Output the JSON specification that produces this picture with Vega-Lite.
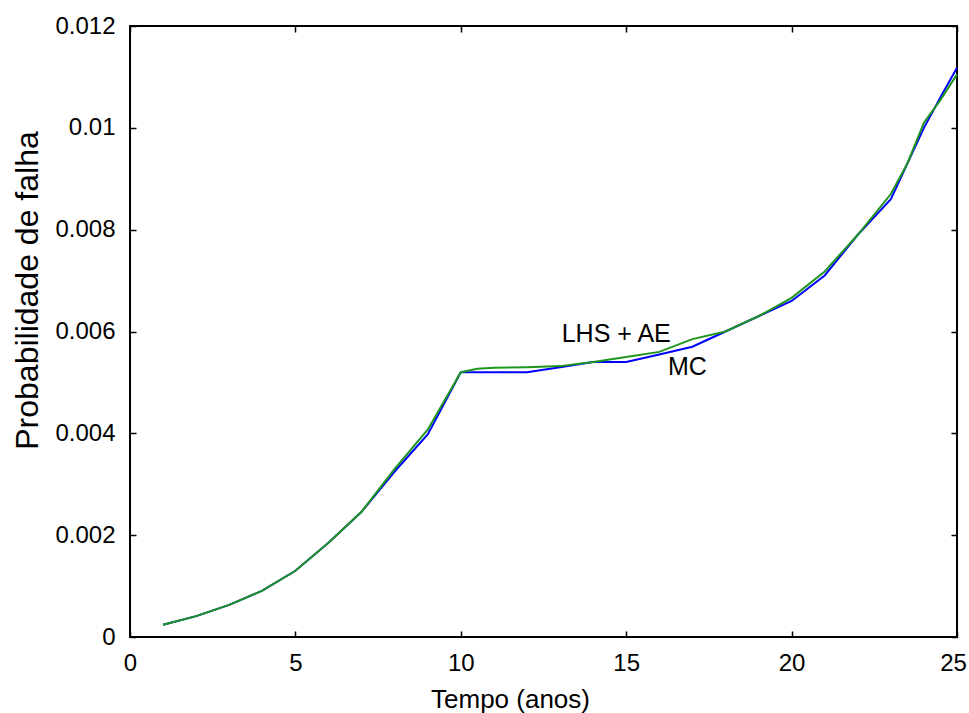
{
  "$schema": "https://vega.github.io/schema/vega-lite/v6.json",
  "width": 827,
  "height": 611,
  "autosize": {"type": "none"},
  "padding": {"left": 130, "top": 26, "right": 12, "bottom": 76},
  "background": "white",
  "config": {
    "view": {"stroke": "black", "strokeWidth": 2},
    "font": "Liberation Sans",
    "axis": {
      "domain": false,
      "grid": false,
      "tickColor": "black",
      "tickSize": -6,
      "tickWidth": 1.5,
      "labelFont": "Liberation Sans",
      "labelFontSize": 24,
      "labelColor": "black",
      "labelFlush": false,
      "labelOverlap": false,
      "labelBound": false,
      "titleFont": "Liberation Sans",
      "titleColor": "black",
      "titleFontWeight": "normal"
    }
  },
  "datasets": {
    "curves": [
      {"serie": "MC", "t": 1, "p": 0.00024},
      {"serie": "MC", "t": 2, "p": 0.00041},
      {"serie": "MC", "t": 3, "p": 0.00063},
      {"serie": "MC", "t": 4, "p": 0.00091},
      {"serie": "MC", "t": 5, "p": 0.0013},
      {"serie": "MC", "t": 6, "p": 0.00185},
      {"serie": "MC", "t": 7, "p": 0.00246},
      {"serie": "MC", "t": 8, "p": 0.00325},
      {"serie": "MC", "t": 9, "p": 0.00398},
      {"serie": "MC", "t": 10, "p": 0.0052},
      {"serie": "MC", "t": 11, "p": 0.0052},
      {"serie": "MC", "t": 12, "p": 0.0052},
      {"serie": "MC", "t": 12.5, "p": 0.00525},
      {"serie": "MC", "t": 13, "p": 0.0053},
      {"serie": "MC", "t": 14, "p": 0.0054},
      {"serie": "MC", "t": 15, "p": 0.0054},
      {"serie": "MC", "t": 16, "p": 0.00555},
      {"serie": "MC", "t": 17, "p": 0.0057},
      {"serie": "MC", "t": 18, "p": 0.006},
      {"serie": "MC", "t": 19, "p": 0.0063},
      {"serie": "MC", "t": 20, "p": 0.0066},
      {"serie": "MC", "t": 21, "p": 0.0071},
      {"serie": "MC", "t": 22, "p": 0.0079},
      {"serie": "MC", "t": 23, "p": 0.0086},
      {"serie": "MC", "t": 23.5, "p": 0.0093},
      {"serie": "MC", "t": 24, "p": 0.0100},
      {"serie": "MC", "t": 24.5, "p": 0.0106},
      {"serie": "MC", "t": 25, "p": 0.01118},
      {"serie": "LHS + AE", "t": 1, "p": 0.00024},
      {"serie": "LHS + AE", "t": 2, "p": 0.00041},
      {"serie": "LHS + AE", "t": 3, "p": 0.00063},
      {"serie": "LHS + AE", "t": 4, "p": 0.00091},
      {"serie": "LHS + AE", "t": 5, "p": 0.0013},
      {"serie": "LHS + AE", "t": 6, "p": 0.00185},
      {"serie": "LHS + AE", "t": 7, "p": 0.00246},
      {"serie": "LHS + AE", "t": 8, "p": 0.0033},
      {"serie": "LHS + AE", "t": 9, "p": 0.00407},
      {"serie": "LHS + AE", "t": 10, "p": 0.0052},
      {"serie": "LHS + AE", "t": 10.5, "p": 0.00527},
      {"serie": "LHS + AE", "t": 11, "p": 0.00529},
      {"serie": "LHS + AE", "t": 12, "p": 0.0053},
      {"serie": "LHS + AE", "t": 13, "p": 0.00532},
      {"serie": "LHS + AE", "t": 14, "p": 0.0054},
      {"serie": "LHS + AE", "t": 15, "p": 0.0055},
      {"serie": "LHS + AE", "t": 16, "p": 0.0056},
      {"serie": "LHS + AE", "t": 17, "p": 0.00585},
      {"serie": "LHS + AE", "t": 18, "p": 0.006},
      {"serie": "LHS + AE", "t": 19, "p": 0.0063},
      {"serie": "LHS + AE", "t": 20, "p": 0.00666},
      {"serie": "LHS + AE", "t": 21, "p": 0.00718},
      {"serie": "LHS + AE", "t": 22, "p": 0.0079},
      {"serie": "LHS + AE", "t": 23, "p": 0.0087},
      {"serie": "LHS + AE", "t": 23.5, "p": 0.0093},
      {"serie": "LHS + AE", "t": 24, "p": 0.0101},
      {"serie": "LHS + AE", "t": 24.5, "p": 0.01055},
      {"serie": "LHS + AE", "t": 25, "p": 0.01105}
    ],
    "labels": [
      {"label": "LHS + AE", "t": 13.05, "p": 0.0058},
      {"label": "MC", "t": 16.26, "p": 0.00515}
    ]
  },
  "layer": [
    {
      "data": {"name": "curves"},
      "mark": {"type": "line", "strokeWidth": 2, "interpolate": "linear"},
      "encoding": {
        "x": {
          "field": "t", "type": "quantitative",
          "scale": {"domain": [0, 25], "nice": false, "zero": false},
          "axis": {
            "orient": "bottom",
            "values": [0, 5, 10, 15, 20, 25],
            "labelPadding": 20,
            "labelOffset": {"condition": {"test": "datum.value == 25", "value": -4}, "value": 0},
            "title": "Tempo (anos)",
            "titleFontSize": 26,
            "titleX": 380,
            "titleY": 70,
            "titleAnchor": null,
            "titleAlign": "center",
            "titleBaseline": "alphabetic"
          }
        },
        "y": {
          "field": "p", "type": "quantitative",
          "scale": {"domain": [0, 0.012], "nice": false},
          "axis": {
            "orient": "left",
            "values": [0, 0.002, 0.004, 0.006, 0.008, 0.01, 0.012],
            "format": "~g",
            "labelPadding": 21,
            "title": "Probabilidade de falha",
            "titleFontSize": 32,
            "titleAngle": -90,
            "titleX": -93,
            "titleY": 264,
            "titleAnchor": null,
            "titleAlign": "center",
            "titleBaseline": "alphabetic"
          }
        },
        "color": {
          "field": "serie", "type": "nominal",
          "scale": {"domain": ["MC", "LHS + AE"], "range": ["#0000ff", "#1e961e"]},
          "legend": null
        },
        "order": {"field": "serie", "sort": "descending"}
      }
    },
    {
      "data": {"name": "labels"},
      "mark": {"type": "text", "align": "left", "baseline": "alphabetic", "fontSize": 25, "font": "Liberation Sans", "color": "black"},
      "encoding": {
        "x": {
          "field": "t", "type": "quantitative",
          "axis": {"orient": "top", "values": [0, 5, 10, 15, 20, 25], "labels": false, "title": null}
        },
        "y": {
          "field": "p", "type": "quantitative",
          "axis": {"orient": "right", "values": [0, 0.002, 0.004, 0.006, 0.008, 0.01, 0.012], "labels": false, "title": null}
        },
        "text": {"field": "label", "type": "nominal"}
      }
    }
  ],
  "resolve": {"axis": {"x": "independent", "y": "independent"}}
}
